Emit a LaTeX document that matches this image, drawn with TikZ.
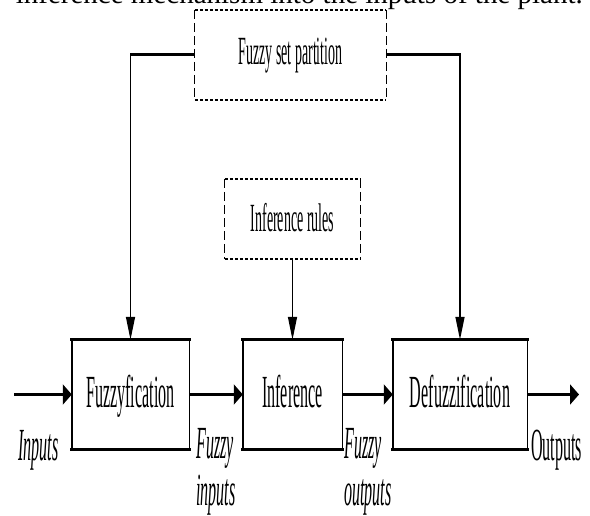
\documentclass[tikz,border=0pt]{standalone}
\usepackage{fontspec}
\setmainfont{Liberation Serif}
\usetikzlibrary{arrows.meta}
\newcommand{\sq}[1]{\scalebox{0.35}[1]{#1}}
\tikzset{
 blk/.style={inner sep=0, minimum height=109pt, text height=35pt, text depth=10pt, font=\fontsize{46}{47}\selectfont},
 dbox/.style={inner sep=0, font=\fontsize{40}{41}\selectfont},
 sideln/.style={line width=1.4pt},
 capln/.style={line width=3pt, line cap=rect},
 dcap/.style={line width=2.4pt, dash pattern=on 3pt off 2pt},
 dside/.style={line width=1.3pt, dash pattern=on 9pt off 4pt},
 harr/.style={line width=3pt, -{Triangle[length=9pt,width=20pt]}},
 varr/.style={line width=1.4pt, -{Triangle[length=23pt,width=9pt]}},
 hline/.style={line width=3pt},
 lbl/.style={inner sep=0, anchor=base west, font=\fontsize{46}{47}\selectfont}
}
\begin{document}
\begin{tikzpicture}[x=1pt,y=-1pt]
\useasboundingbox (0,0) rectangle (590,516);
\begin{scope}
\clip (0,0) rectangle (590,516);
% cut-off text line at top
\node[inner sep=0, anchor=base east, font=\fontsize{29}{30}\selectfont] (toptext) at (583,3.5) {inference mechanism into the inputs of the plant.};

% dashed boxes
\node[dbox, minimum width=191pt, minimum height=90pt, text height=28pt, text depth=8pt] (fsp) at (290.5,55) {\sq{Fuzzy set partition}};
\node[dbox, minimum width=135pt, minimum height=80pt, text height=31pt, text depth=5pt] (ir) at (292.5,219) {\sq{Inference rules}};
\foreach \n in {fsp,ir}{
  \draw[dcap] (\n.north west) -- (\n.north east);
  \draw[dcap] (\n.south west) -- (\n.south east);
  \draw[dside] (\n.north west) -- (\n.south west);
  \draw[dside] (\n.north east) -- (\n.south east);
}

% main blocks
\node[blk, minimum width=117pt] (fuz) at (130.5,394.5) {\sq{Fuzzyfication}};
\node[blk, minimum width=99pt] (inf) at (292.5,394.5) {\sq{Inference}};
\node[blk, minimum width=134pt] (def) at (460,394.5) {\sq{Defuzzification}};
\foreach \n in {fuz,inf,def}{
  \draw[sideln] (\n.north west) -- (\n.south west);
  \draw[sideln] (\n.north east) -- (\n.south east);
  \draw[capln] (\n.north west) -- (\n.north east);
  \draw[capln] (\n.south west) -- (\n.south east);
}

% connectors
\coordinate (in) at (14,394.5);
\coordinate (out) at (579,394.5);
\coordinate (cl) at (fsp.west -| fuz.north);
\coordinate (cr) at (fsp.east -| def.north);
\draw[harr] (in) -- (fuz.west);
\draw[harr] (fuz.east) -- (inf.west);
\draw[harr] (inf.east) -- (def.west);
\draw[harr] (def.east) -- (out);
\draw[hline] (fsp.west) -- ([xshift=-0.7pt]cl);
\draw[hline] (fsp.east) -- ([xshift=0.7pt]cr);
\draw[varr] ([yshift=-1.5pt]cl) -- (fuz.north);
\draw[varr] ([yshift=-1.5pt]cr) -- (def.north);
\draw[varr] (ir.south) -- (inf.north);

% labels
\node[lbl] (linp) at (18,460) {\itshape\sq{Inputs}};
\node[lbl] (lfin) at (196,458) {\itshape\sq{\begin{tabular}[t]{@{}l@{}}Fuzzy\\inputs\end{tabular}}};
\node[lbl] (lfout) at (344,458) {\itshape\sq{\begin{tabular}[t]{@{}l@{}}Fuzzy\\outputs\end{tabular}}};
\node[lbl] (lout) at (531,460) {\sq{Outputs}};
\end{scope}
\end{tikzpicture}
\end{document}
